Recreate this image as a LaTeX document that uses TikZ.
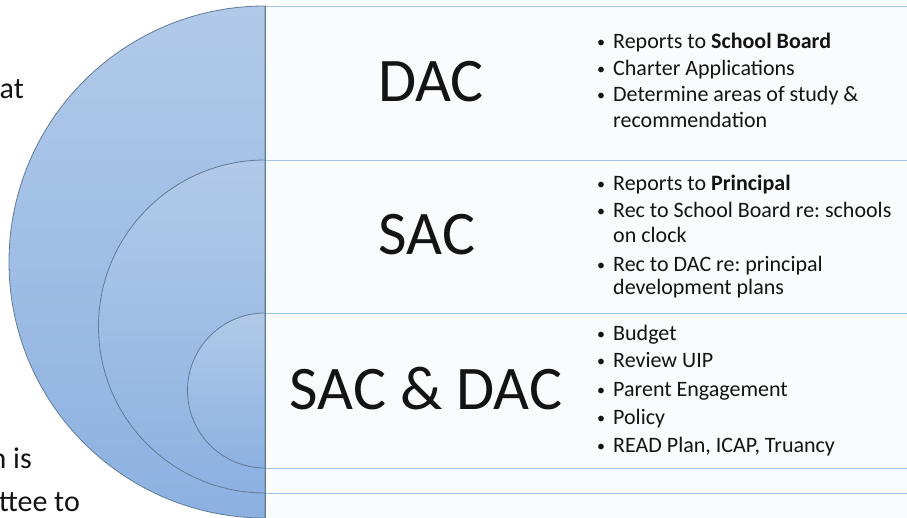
\documentclass[tikz,border=0pt]{standalone}
\usepackage{fontspec}
\setmainfont{Carlito}
\usetikzlibrary{shapes,backgrounds,calc}

\definecolor{discTop}{RGB}{178,202,233}
\definecolor{discBot}{RGB}{140,177,225}
\definecolor{discLine}{RGB}{96,122,152}
\definecolor{rowLine}{RGB}{157,195,230}
\definecolor{rowFill}{RGB}{250,251,252}
\definecolor{ink}{RGB}{20,20,20}

\tikzset{
  disc/.style={draw=discLine, line width=0.8pt, top color=discTop, bottom color=discBot},
  rowline/.style={draw=rowLine, line width=0.9pt},
  bigname/.style={font=\fontsize{62}{70}\selectfont, text=ink, anchor=base, inner sep=0pt},
  item/.style={font=\fontsize{22}{26}\selectfont, text=ink, anchor=base west, inner sep=0pt},
  side/.style={font=\fontsize{30}{36}\selectfont, text=ink, anchor=base east, inner sep=0pt}
}
\newcommand{\bul}{\makebox[16pt][l]{\raisebox{1.6pt}{\fontsize{16}{16}\selectfont\textbullet}}}
\frenchspacing

\begin{document}
\begin{tikzpicture}[x=1pt,y=1pt]
	\useasboundingbox (0,0) rectangle (907,518);
	\fill[white] (0,0) rectangle (907,518);
	\fill[rowFill] (265,0) rectangle (907,512);

	% text of the slide behind
	\node[side] (sidea) at (24,419) {at};
	\node[side] (sideb) at (32,49) {n is};
	\node[side] (sidec) at (80,6) {ttee to};

	% half discs
	\draw[disc] (265,512) arc[start angle=90, end angle=270, radius=256] -- cycle;
	\draw[disc] (265,358) arc[start angle=90, end angle=270, radius=166.5] -- cycle;
	\draw[disc] (265,205) arc[start angle=90, end angle=270, radius=77.5] -- cycle;

	% rows
	\foreach \y in {512,358,205,50,25}
		\draw[rowline] (265,\y) -- (907,\y);
	\draw[discLine, line width=0.8pt] (265,0) -- (265,512);

		\node[bigname] (dac) at (431,416) {DAC};

			\node[item] (dacA) at (597,469) {\bul Reports to \textbf{School Board}};
			\node[item] (dacB) at (597,442) {\bul Charter Applications};
			\node[item] (dacC) at (597,416) {\bul Determine areas of study \&};
			\node[item] (dacD) at (613,390) {recommendation};

		\node[bigname] (sac) at (427,263) {SAC};

			\node[item] (sacA) at (597,327) {\bul Reports to \textbf{Principal}};
			\node[item] (sacB) at (597,300) {\bul Rec to School Board re: schools};
			\node[item] (sacC) at (613,275) {on clock};
			\node[item] (sacD) at (597,246) {\bul Rec to DAC re: principal};
			\node[item] (sacE) at (613,223) {development plans};

		\node[bigname] (both) at (426,108) {SAC \& DAC};

			\node[item] (bothA) at (597,177) {\bul Budget};
			\node[item] (bothB) at (597,150) {\bul Review UIP};
			\node[item] (bothC) at (597,121) {\bul Parent Engagement};
			\node[item] (bothD) at (597,93) {\bul Policy};
			\node[item] (bothE) at (597,65) {\bul READ Plan, ICAP, Truancy};

\end{tikzpicture}
\end{document}
